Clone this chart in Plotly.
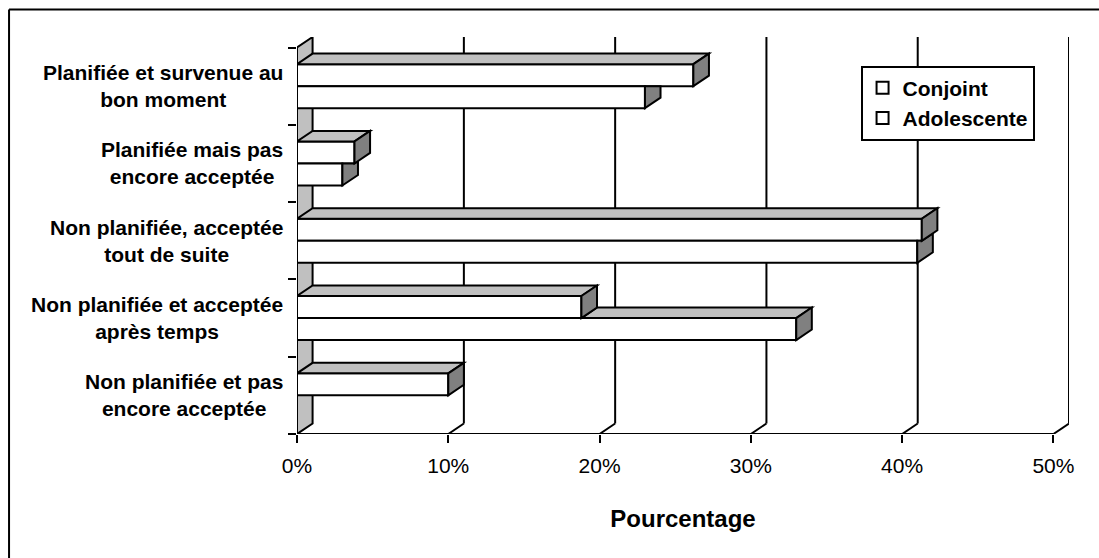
import plotly.graph_objects as go

# Survey data: how the pregnancy was planned / accepted (%)
categories = [
    "Planifiée et survenue au<br>bon moment",
    "Planifiée mais pas<br>encore acceptée",
    "Non planifiée, acceptée<br>tout de suite",
    "Non planifiée et acceptée<br>après temps",
    "Non planifiée et pas<br>encore acceptée",
]
conjoint = [26.2, 3.8, 41.3, 18.8, 10.0]
adolescente = [23.0, 3.0, 41.0, 33.0, 0.0]
x_ticks = [0, 10, 20, 30, 40, 50]
x_ticktext = ["0%", "10%", "20%", "30%", "40%", "50%"]

# 3-D look: depth offset of the back wall in data units, bar thickness
DX = 1.03      # percent
DY = 0.136     # category units
H = 0.285      # height of one bar (category units)
XMAX = 50

LIGHT = "#c0c0c0"
DARK = "#808080"
FONT = "Liberation Sans, Arial, sans-serif"

n = len(categories)
pos = [n - 1 - i for i in range(n)]   # first category at the top

fig = go.Figure()

# front faces of the bars
fig.add_trace(go.Bar(
    name="Conjoint", orientation="h", y=pos, x=conjoint, base=0,
    width=H, offset=0, legendgroup="c",
    marker=dict(color="white", line=dict(color="black", width=2)),
    hoverinfo="skip",
))
fig.add_trace(go.Bar(
    name="Adolescente", orientation="h", y=pos, x=adolescente, base=0,
    width=H, offset=-H, legendgroup="a",
    marker=dict(color="white", line=dict(color="black", width=2)),
    hoverinfo="skip",
))


def poly(points):
    return "M " + " L ".join(f"{x},{y}" for x, y in points) + " Z"


shapes = []
line = dict(color="black", width=2)

# left wall
y0, y1 = -0.5, n - 0.5
shapes.append(dict(type="path", xref="x", yref="y", layer="below",
                   path=poly([(0, y0), (0, y1), (DX, y1 + DY), (DX, y0 + DY)]),
                   fillcolor=LIGHT, line=line))
# back-wall gridlines and floor edges
for v in x_ticks:
    if v > 0:
        shapes.append(dict(type="line", xref="x", yref="y", layer="below",
                           x0=v + DX, y0=y0 + DY, x1=v + DX, y1=y1 + DY, line=line))
        shapes.append(dict(type="line", xref="x", yref="y", layer="below",
                           x0=v, y0=y0, x1=v + DX, y1=y0 + DY, line=line))
# front axis lines
shapes.append(dict(type="line", xref="x", yref="y", layer="below",
                   x0=0, y0=y0, x1=XMAX, y1=y0, line=line))
shapes.append(dict(type="line", xref="x", yref="y", layer="below",
                   x0=0, y0=y0, x1=0, y1=y1, line=line))

# top and side faces, painted back to front
for c, vc, va in zip(pos, conjoint, adolescente):
    if va > 0:
        if va > vc:
            shapes.append(dict(type="path", xref="x", yref="y", layer="above",
                               path=poly([(vc, c), (va, c), (va + DX, c + DY), (vc + DX, c + DY)]),
                               fillcolor=LIGHT, line=line))
        k = min(max(vc, va), va + DX)
        shapes.append(dict(type="path", xref="x", yref="y", layer="above",
                           path=poly([(va, c - H), (va, c), (k, c),
                                      (va + DX, c + (va + DX - k) * DY / DX),
                                      (va + DX, c - H + DY)]),
                           fillcolor=DARK, line=line))
    if vc > 0:
        t = c + H
        shapes.append(dict(type="path", xref="x", yref="y", layer="above",
                           path=poly([(0, t), (vc, t), (vc + DX, t + DY), (DX, t + DY)]),
                           fillcolor=LIGHT, line=line))
        shapes.append(dict(type="path", xref="x", yref="y", layer="above",
                           path=poly([(vc, c), (vc, t), (vc + DX, t + DY), (vc + DX, c + DY)]),
                           fillcolor=DARK, line=line))

# chart frame (left and top edges)
shapes.append(dict(type="line", xref="paper", yref="paper",
                   x0=-0.373, y0=1.069, x1=1.2, y1=1.069, line=line))
shapes.append(dict(type="line", xref="paper", yref="paper",
                   x0=-0.373, y0=1.069, x1=-0.373, y1=-0.5, line=line))

# category labels, centred lines
annotations = []
for c, label in zip(pos, categories):
    annotations.append(dict(
        xref="paper", yref="y", x=-0.0155, y=c, xanchor="right", yanchor="middle",
        text=label, align="center", showarrow=False,
        font=dict(family=FONT, size=21, color="black", weight="bold"),
    ))

fig.update_layout(
    width=1099, height=558, autosize=False,
    margin=dict(l=297, r=30, t=37, b=124, pad=0),
    paper_bgcolor="white", plot_bgcolor="white",
    barmode="overlay",
    shapes=shapes, annotations=annotations,
    xaxis=dict(
        range=[0, XMAX + DX], tickvals=x_ticks, ticktext=x_ticktext,
        ticks="outside", ticklen=8, tickwidth=2, tickcolor="black",
        ticklabelstandoff=5,
        showgrid=False, zeroline=False, showline=False,
        tickfont=dict(family=FONT, size=21, color="black"),
        title=dict(text="Pourcentage", standoff=33,
                   font=dict(family=FONT, size=24, color="black", weight="bold")),
        fixedrange=True,
    ),
    yaxis=dict(
        range=[y0, y1 + DY], tickvals=[p - 0.5 for p in range(n + 1)],
        ticks="outside", ticklen=8, tickwidth=2, tickcolor="black",
        showticklabels=False, showgrid=False, zeroline=False, showline=False,
        fixedrange=True,
    ),
    legend=dict(
        x=0.73, y=0.928, xanchor="left", yanchor="top",
        bgcolor="white", bordercolor="black", borderwidth=2,
        font=dict(family=FONT, size=21, color="black", weight="bold"),
        traceorder="normal", tracegroupgap=2,
        itemclick=False, itemdoubleclick=False,
    ),
    showlegend=True,
)

fig.write_html("out.html")
